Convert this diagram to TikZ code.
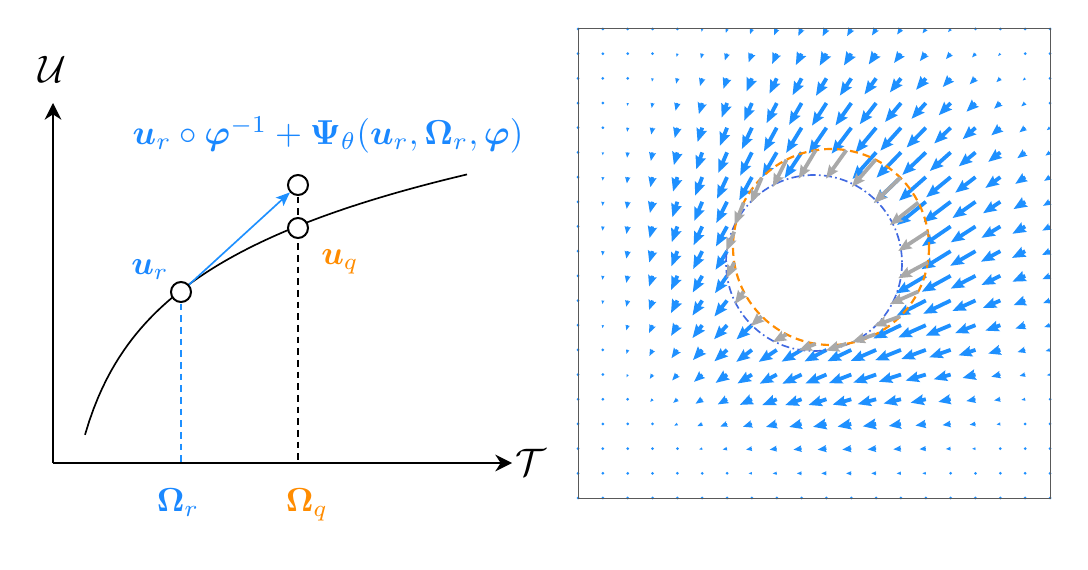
\documentclass[tikz,border=0pt]{standalone}
\usepackage{amsmath,amssymb}
\usetikzlibrary{arrows.meta}
\definecolor{dblue}{RGB}{30,144,255}
\definecolor{lblue}{RGB}{26,136,255}
\definecolor{dorange}{RGB}{255,140,0}
\definecolor{rblue}{RGB}{65,105,225}
\definecolor{dgray}{RGB}{169,169,169}
\newcommand{\bs}[1]{\boldsymbol{#1}}
\newcommand{\qvarrow}[5]{%
 \pgfmathsetmacro\qL{veclen(#3,#4)}%
 \ifdim\qL pt<2.8pt
   \fill[#5] (#1,#2) circle[radius=1.5];
 \else
   \pgfmathsetmacro\qf{min(1,\qL/13.5)}%
   \pgfmathsetmacro\qux{(#3)/\qL}%
   \pgfmathsetmacro\quy{(#4)/\qL}%
   \pgfmathsetmacro\qw{1.9*\qf}%
   \pgfmathsetmacro\qh{5.6*\qf}%
   \pgfmathsetmacro\qa{\qL-12*\qf}%
   \pgfmathsetmacro\qb{\qL-13.5*\qf}%
   \fill[#5] ({#1-\qw*(\quy)},{#2+\qw*(\qux)})
     -- ({#1+\qa*(\qux)-\qw*(\quy)},{#2+\qa*(\quy)+\qw*(\qux)})
     -- ({#1+\qb*(\qux)-\qh*(\quy)},{#2+\qb*(\quy)+\qh*(\qux)})
     -- ({#1+\qL*(\qux)},{#2+\qL*(\quy)})
     -- ({#1+\qb*(\qux)+\qh*(\quy)},{#2+\qb*(\quy)-\qh*(\qux)})
     -- ({#1+\qa*(\qux)+\qw*(\quy)},{#2+\qa*(\quy)-\qw*(\qux)})
     -- ({#1+\qw*(\quy)},{#2-\qw*(\qux)}) -- cycle;
 \fi}
\begin{document}
\begin{tikzpicture}[x=0.3pt,y=-0.3pt,
 axis/.style={line width=0.6pt,-{Stealth[length=5pt,width=5pt,inset=1.6pt]}},
 curve/.style={line width=0.5pt},
 opt/.style={circle,draw,line width=0.6pt,fill=white,minimum size=6pt,inner sep=0pt},
 bdash/.style={dblue,line width=0.4pt,dash pattern=on 2pt off 1.5pt},
 kdash/.style={black,line width=0.4pt,dash pattern=on 2pt off 1.5pt},
 barrow/.style={dblue,line width=0.5pt,-{Stealth[length=4.2pt,width=3.4pt,inset=1pt]}},
 lab/.style={inner sep=0pt},
 axlab/.style={inner sep=0pt,scale=1.15},
 frame/.style={draw=black!65,line width=0.3pt},
 ocirc/.style={dorange,line width=0.65pt,dash pattern=on 2.4pt off 1.5pt},
 bcirc/.style={rblue,line width=0.5pt,dash pattern=on 2.4pt off 1pt on 0.5pt off 1pt}]
\fill[white] (0,0) rectangle (1088,570);
\useasboundingbox (0,0) rectangle (1088,570);
% ---------- left plot ----------
\coordinate (O) at (53,463);
\coordinate (ytip) at (53,103);
\coordinate (xtip) at (512,463);
\draw[axis] (O) -- (ytip);
\draw[axis] (O) -- (xtip);
\node[axlab] (U) at (52,69) {$\mathcal{U}$};
\node[axlab] (T) at (531,462) {$\mathcal{T}$};
\draw[curve] plot[domain=85:467,samples=90] (\x,{758-97*ln(\x-57)});
\coordinate (cr) at (181,292);
\coordinate (cq) at (298,228);
\coordinate (cp) at (298,185);
\draw[bdash] (cr) -- (cr |- O);
\draw[kdash] (cp) -- (cp |- O);
\node[opt] (ur) at (cr) {};
\node[opt] (uq) at (cq) {};
\node[opt] (up) at (cp) {};
\draw[barrow] (ur) -- (up);
\node[lab,text=lblue] (lur) at (150,270) {$\bs{u}_r$};
\node[lab,text=dorange] (luq) at (340,262) {$\bs{u}_q$};
\node[lab,text=lblue] (lOr) at (178,503) {$\bs{\Omega}_r$};
\node[lab,text=dorange] (lOq) at (307,505) {$\bs{\Omega}_q$};
\node[lab,text=lblue,scale=1.04] (lf) at (328,135) {$\bs{u}_r\circ\bs{\varphi}^{-1}+\bs{\Psi}_\theta(\bs{u}_r,\bs{\Omega}_r,\bs{\varphi})$};
% ---------- right panel ----------
\foreach \i in {0,...,19}{
 \foreach \j in {0,...,19}{
  \pgfmathsetmacro\px{578+\i*24.842}
  \pgfmathsetmacro\py{29+\j*24.684}
  \pgfmathsetmacro\rx{(\px-831)/100}
  \pgfmathsetmacro\ry{(\py-247)/100}
  \pgfmathsetmacro\bx{(\px-814)/100}
  \pgfmathsetmacro\by{(\py-263)/100}
  \pgfmathtruncatemacro\inside{or(\rx*\rx+\ry*\ry<0.96,\bx*\bx+\by*\by<0.77)}
  \ifnum\inside=0
   \pgfmathsetmacro\dd{veclen(\rx,\ry)}
   \pgfmathsetmacro\amp{29+(7*\rx-4*\ry)/\dd}
   \pgfmathsetmacro\m{\amp*exp(-((\dd-0.98)/0.72)^2/2)}
   \pgfmathsetmacro\lx{-17-7*\rx}
   \pgfmathsetmacro\ly{16-7*\ry}
   \pgfmathsetmacro\ll{veclen(\lx,\ly)}
   \pgfmathsetmacro\vx{\m*\lx/\ll}
   \pgfmathsetmacro\vy{\m*\ly/\ll}
   \qvarrow{\px}{\py}{\vx}{\vy}{dblue}
  \fi
 }
}
\draw[frame] (578,29) rectangle (1050,498);
\draw[bcirc] (814,263) circle[radius=88];
\draw[ocirc] (831,247) circle[radius=98];
\foreach \k in {0,...,19}{
  \pgfmathsetmacro\th{\k*18+9}
  \pgfmathsetmacro\px{831+98*cos(\th)}
  \pgfmathsetmacro\py{247+98*sin(\th)}
  \pgfmathsetmacro\vx{1.1*(-17-10*cos(\th))}
  \pgfmathsetmacro\vy{1.1*(16-10*sin(\th))}
  \qvarrow{\px}{\py}{\vx}{\vy}{dgray}
}
\end{tikzpicture}
\end{document}
